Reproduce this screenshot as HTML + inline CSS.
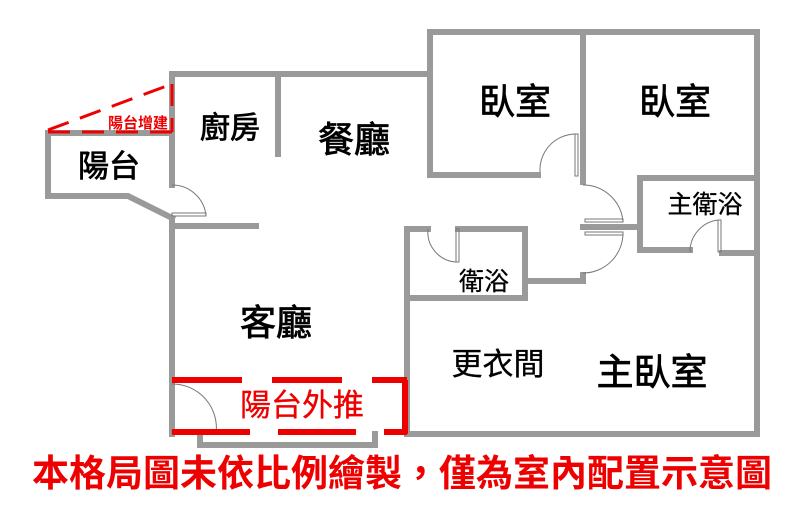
<!DOCTYPE html>
<html><head><meta charset="utf-8"><style>
html,body{margin:0;padding:0;background:#fff;width:800px;height:515px;overflow:hidden}
text{font-family:"Liberation Sans","Noto Sans CJK TC",sans-serif}
</style></head><body>
<svg width="800" height="515" viewBox="0 0 800 515" xmlns="http://www.w3.org/2000/svg">
<g stroke="#9a9a9a" stroke-width="6" fill="none" stroke-linecap="square">
<polyline points="172,185 172,74 430,74"/>
<line x1="278" y1="74" x2="278" y2="154"/>
<polyline points="430,175 430,32 757,32 757,434"/>
<line x1="583" y1="32" x2="583" y2="182"/>
<line x1="430" y1="175" x2="538" y2="175"/>
<polyline points="583,227 640,227 640,178 757,178"/>
<line x1="640" y1="250" x2="690" y2="250"/>
<line x1="722" y1="253" x2="757" y2="253"/>
<line x1="640" y1="178" x2="640" y2="250"/>
<polyline points="428,229 407,229 407,434 757,434"/>
<line x1="458" y1="229" x2="525" y2="229"/>
<polyline points="525,229 525,281 583,281 583,275"/>
<line x1="407" y1="298" x2="525" y2="298"/>
<line x1="525" y1="281" x2="525" y2="298"/>
<line x1="172" y1="222" x2="172" y2="434"/>
<line x1="175" y1="226" x2="256" y2="226"/>
<polyline points="172,133 48,133 48,196 128,196 172,218"/>
<polyline points="200,434 200,445 375,445 375,434"/>
</g>
<g stroke="#777" stroke-width="1" fill="none">
<path d="M172,185 A34,34 0 0 1 206,216"/>
<rect x="172" y="213" width="34" height="3"/>
<path d="M575,134 A36,36 0 0 0 540,172"/>
<rect x="575" y="134" width="3" height="42"/>
<path d="M583,185 A40,40 0 0 1 623,222"/>
<rect x="585" y="219" width="38" height="3"/>
<path d="M583,273 A40,40 0 0 0 623,232"/>
<rect x="585" y="232" width="38" height="3"/>
<path d="M428,229 A30,30 0 0 0 456,262"/>
<rect x="456" y="229" width="3" height="33"/>
<path d="M718,220 A32,32 0 0 0 690,252"/>
<rect x="718" y="220" width="3" height="32"/>
<path d="M172,384 A44,44 0 0 1 216,434"/>
<rect x="172" y="430" width="44" height="3"/>
</g>
<g stroke="#e00" stroke-width="6" fill="none">
<line x1="172" y1="380" x2="407" y2="380" stroke-dasharray="70,30"/>
<line x1="172" y1="432" x2="407" y2="432" stroke-dasharray="78,28"/>
<line x1="405" y1="380" x2="405" y2="434"/>
</g>
<g stroke="#e00" stroke-width="3" fill="none" stroke-dasharray="22,12">
<line x1="48" y1="132" x2="172" y2="132"/>
<line x1="48" y1="130" x2="172" y2="84"/>
<line x1="172" y1="84" x2="172" y2="132"/>
</g>
<g fill="#000" stroke="#000" stroke-width="0.8" text-anchor="middle">
<text x="515" y="114" font-size="36">臥室</text>
<text x="675" y="114" font-size="36">臥室</text>
<text x="354" y="152" font-size="36">餐廳</text>
<text x="230" y="138" font-size="30">廚房</text>
<text x="109" y="177" font-size="31">陽台</text>
<text x="705" y="213" font-size="25" stroke-width="0.3">主衛浴</text>
<text x="484" y="290" font-size="25" stroke-width="0.3">衛浴</text>
<text x="276" y="335" font-size="36">客廳</text>
<text x="498" y="375" font-size="31" stroke-width="0.3">更衣間</text>
<text x="652" y="385" font-size="37">主臥室</text>
</g>
<text x="302" y="416" font-size="31" fill="#e00" stroke="#e00" stroke-width="0.3" text-anchor="middle">陽台外推</text>
<text x="138" y="128" font-size="15" fill="#e00" font-weight="bold" text-anchor="middle">陽台增建</text>
<text x="402" y="486" font-size="37" fill="#e00" font-weight="bold" text-anchor="middle">本格局圖未依比例繪製，僅為室內配置示意圖</text>
</svg>
</body></html>
